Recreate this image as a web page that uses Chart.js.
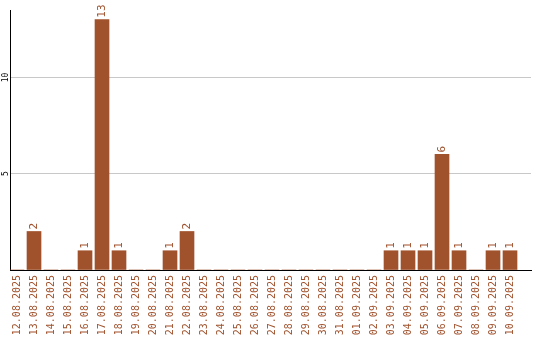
<!DOCTYPE html>
<html>
<head>
<meta charset="utf-8">
<script src="https://cdn.jsdelivr.net/npm/chart.js@4/dist/chart.umd.min.js"></script>
<style>
  html, body { margin: 0; padding: 0; background: #fff; }
  #wrap { width: 540px; height: 340px; position: relative; }
</style>
</head>
<body>
<div id="wrap"><canvas id="c" width="540" height="340"></canvas></div>
<script>
// Daily counts, 12.08.2025 – 10.09.2025
const dates = [
  '12.08.2025', '13.08.2025', '14.08.2025', '15.08.2025', '16.08.2025',
  '17.08.2025', '18.08.2025', '19.08.2025', '20.08.2025', '21.08.2025',
  '22.08.2025', '23.08.2025', '24.08.2025', '25.08.2025', '26.08.2025',
  '27.08.2025', '28.08.2025', '29.08.2025', '30.08.2025', '31.08.2025',
  '01.09.2025', '02.09.2025', '03.09.2025', '04.09.2025', '05.09.2025',
  '06.09.2025', '07.09.2025', '08.09.2025', '09.09.2025', '10.09.2025'
];
const counts = [
  0, 2, 0, 0, 1, 13, 1, 0, 0, 1,
  2, 0, 0, 0, 0, 0, 0, 0, 0, 0,
  0, 0, 1, 1, 1, 6, 1, 0, 1, 1
];
const yTickLabels = [5, 10];

const BROWN = '#a0522d';
const MONO = '"DejaVu Sans Mono", "Liberation Mono", monospace';

// Numbers written vertically above each non-empty bar
const valueLabels = {
  id: 'valueLabels',
  afterDatasetsDraw(chart) {
    const ctx = chart.ctx;
    const meta = chart.getDatasetMeta(0);
    ctx.save();
    ctx.fillStyle = BROWN;
    ctx.font = '11px ' + MONO;
    ctx.textAlign = 'left';
    ctx.textBaseline = 'middle';
    meta.data.forEach((bar, i) => {
      const v = counts[i];
      if (!v) return;
      ctx.save();
      ctx.translate(bar.x, bar.y - 2);
      ctx.rotate(-Math.PI / 2);
      ctx.fillText(String(v), 0, 0);
      ctx.restore();
    });
    ctx.restore();
  }
};

// Vertical tick labels on the value axis, centred on their grid line
const yLabels = {
  id: 'yLabels',
  afterDraw(chart) {
    const ctx = chart.ctx;
    const y = chart.scales.y;
    ctx.save();
    ctx.fillStyle = '#000';
    ctx.font = '8px ' + MONO;
    ctx.textAlign = 'center';
    ctx.textBaseline = 'middle';
    yTickLabels.forEach(v => {
      ctx.save();
      ctx.translate(6, y.getPixelForValue(v));
      ctx.rotate(-Math.PI / 2);
      ctx.fillText(String(v), 0, 0);
      ctx.restore();
    });
    ctx.restore();
  }
};

new Chart(document.getElementById('c'), {
  type: 'bar',
  data: {
    datasets: [{
      data: counts.map((v, i) => ({ x: i, y: v })),
      backgroundColor: BROWN,
      borderWidth: 0,
      barThickness: 14
    }]
  },
  options: {
    responsive: false,
    animation: false,
    layout: { padding: { top: 10, right: 9, left: 0, bottom: 0 } },
    plugins: { legend: { display: false }, tooltip: { enabled: false } },
    scales: {
      x: {
        type: 'linear',
        offset: false,
        min: -0.412,
        max: 30.235,
        afterFit: s => { s.height = 70; s.paddingLeft = 0; s.paddingRight = 0; },
        grid: { display: false, drawTicks: false, offset: false },
        border: { display: true, color: '#000', width: 1 },
        ticks: {
          stepSize: 1,
          includeBounds: false,
          autoSkip: false,
          minRotation: 90,
          maxRotation: 90,
          padding: 5,
          color: BROWN,
          font: { family: MONO, size: 10 },
          callback: v => dates[v] ?? ''
        }
      },
      y: {
        min: 0,
        max: 13.5,
        afterFit: s => { s.width = 10; s.paddingTop = 0; s.paddingBottom = 0; },
        grid: { color: '#c8c8c8', lineWidth: 1, drawTicks: false },
        border: { display: true, color: '#000', width: 1 },
        ticks: {
          stepSize: 5,
          includeBounds: false,
          display: false
        }
      }
    }
  },
  plugins: [valueLabels, yLabels]
});
</script>
</body>
</html>
